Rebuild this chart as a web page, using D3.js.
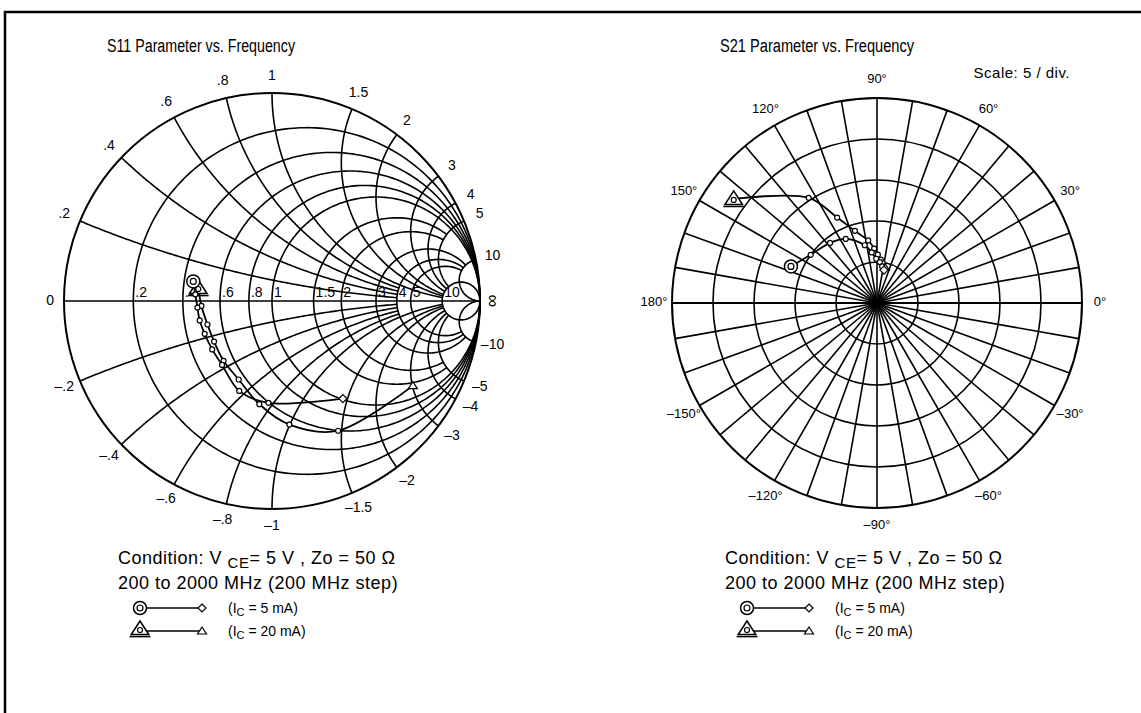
<!DOCTYPE html>
<html>
<head>
<meta charset="utf-8">
<script src="https://cdn.jsdelivr.net/npm/d3@7"></script>
<style>
  body { margin: 0; background: #fff; }
  svg text { font-family: "Liberation Sans", Arial, sans-serif; fill: #000; }
  .grid { fill: none; stroke: #000; stroke-width: 1.6; }
  .trace { fill: none; stroke: #000; stroke-width: 1.8; }
</style>
</head>
<body>
<svg id="chart" width="1141" height="713"></svg>
<script>
// frequencies 200..2000 MHz, 200 MHz step
const freqs = [200, 400, 600, 800, 1000, 1200, 1400, 1600, 1800, 2000];

// S11 (magnitude, angle in degrees)
const s11Mag5 = [0.39, 0.37, 0.36, 0.36, 0.36, 0.37, 0.39, 0.46, 0.49, 0.58];
const s11Ang5 = [166, 175, -175, -165, -154, -141, -128, -110, -92, -54];
const s11Mag20 = [0.36, 0.34, 0.33, 0.34, 0.37, 0.41, 0.50, 0.60, 0.70, 0.79];
const s11Ang20 = [170, -176, -160, -145, -129, -113, -97, -82, -63, -31];

// S21 (magnitude, angle in degrees)
const s21Mag5 = [11.4, 10.0, 9.3, 8.7, 7.2, 6.2, 5.4, 5.0, 4.5, 4.1];
const s21Ang5 = [157, 144, 128, 116, 102, 96, 91, 86, 82, 78];
const s21Mag20 = [21.6, 15.3, 11.5, 9.2, 7.7, 6.65, 5.9, 5.3, 4.9, 4.45];
const s21Ang20 = [144, 123, 115, 107, 98, 93, 89, 85, 81.5, 77.5];

// Smith chart grid values and labels
const resistances = [0.2, 0.4, 0.6, 0.8, 1, 1.5, 2, 3, 4, 5, 10];
const reactances = [0.2, 0.4, 0.6, 0.8, 1, 1.5, 2, 3, 4, 5, 10];
const resLabels = [".2", ".4", ".6", ".8", "1", "1.5", "2", "3", "4", "5", "10"];

// polar chart grid
const polarRings = [5, 10, 15, 20, 25];
const polarLabelAngles = [90, 60, 30, 0, -30, -60, -90, -120, -150, 180, 150, 120];

const svg = d3.select("#chart");

// frame
svg.append("path")
  .attr("d", "M5,713 L5,12 L1141,12")
  .attr("fill", "none").attr("stroke", "#000").attr("stroke-width", 2.5);

// ---------- Smith chart ----------
const sc = { cx: 272, cy: 301, R: 208 };
const gx = d3.scaleLinear().domain([-1, 1]).range([sc.cx - sc.R, sc.cx + sc.R]);
const gy = d3.scaleLinear().domain([-1, 1]).range([sc.cy + sc.R, sc.cy - sc.R]);

// z = r + jx  ->  gamma = (z-1)/(z+1)
function gamma(r, x) {
  const a = r - 1, b = x, c = r + 1, d = x;
  const den = c * c + d * d;
  return [(a * c + b * d) / den, (b * c - a * d) / den];
}
const lineG = d3.line().x(d => gx(d[0])).y(d => gy(d[1]));

const smith = svg.append("g");

// resistance circles (some truncated in reactance)
const resXmax = { 0.2: Infinity, 0.4: Infinity, 0.6: Infinity, 0.8: Infinity, 1: Infinity,
  1.5: 5, 2: 5, 3: 10, 4: 10, 5: 10, 10: Infinity };
resistances.forEach(r => {
  const xm = resXmax[r];
  const tmax = xm === Infinity ? Math.PI / 2 - 1e-4 : Math.atan(xm);
  const pts = d3.range(-tmax, tmax + 1e-9, tmax / 150).map(t => gamma(r, Math.tan(t)));
  smith.append("path").attr("class", "grid").attr("d", lineG(pts));
});

// reactance arcs (truncated in resistance)
const reaRmax = { 0.2: 4, 0.4: 4, 0.6: 4, 0.8: 4, 1: 10, 1.5: 10, 2: 10, 3: 10, 4: 10, 5: 10, 10: Infinity };
reactances.forEach(x => {
  const rm = reaRmax[x];
  const tmax = rm === Infinity ? Math.PI / 2 - 1e-4 : Math.atan(rm);
  [x, -x].forEach(xx => {
    const pts = d3.range(0, tmax + 1e-9, tmax / 150).map(t => gamma(Math.tan(t), xx));
    smith.append("path").attr("class", "grid").attr("d", lineG(pts));
  });
});

// outer circle and real axis
smith.append("circle").attr("cx", gx(0)).attr("cy", gy(0)).attr("r", gx(1) - gx(0))
  .attr("fill", "none").attr("stroke", "#000").attr("stroke-width", 2);
smith.append("line").attr("class", "grid")
  .attr("x1", gx(-1)).attr("y1", gy(0)).attr("x2", gx(1)).attr("y2", gy(0));

// resistance labels along the axis
resistances.forEach((r, i) => {
  const g = gamma(r, 0);
  smith.append("text").attr("x", gx(g[0]) + 2).attr("y", gy(0) - 4)
    .attr("font-size", 14).text(resLabels[i]);
});

// reactance labels around the rim
reactances.forEach((x, i) => {
  [1, -1].forEach(s => {
    const th = s * 2 * Math.atan(1 / x);
    const rr = 1 + 17 / sc.R;
    smith.append("text")
      .attr("x", gx(rr * Math.cos(th))).attr("y", gy(rr * Math.sin(th)))
      .attr("text-anchor", "middle").attr("dominant-baseline", "middle")
      .attr("font-size", 14)
      .text((s < 0 ? "\u2013" : "") + resLabels[i]);
  });
});
smith.append("text").attr("x", gx(-1) - 10).attr("y", gy(0))
  .attr("text-anchor", "end").attr("dominant-baseline", "middle").attr("font-size", 14).text("0");
smith.append("text")
  .attr("transform", `translate(${gx(1) + 12},${gy(0)}) rotate(90)`)
  .attr("text-anchor", "middle").attr("dominant-baseline", "middle")
  .attr("font-size", 18).text("\u221E");

// ---------- polar chart ----------
const pc = { cx: 877, cy: 303, R: 205 };
const rad = d3.scaleLinear().domain([0, 25]).range([0, pc.R]);
const polar = svg.append("g");
const px = (m, a) => pc.cx + rad(m) * Math.cos(a * Math.PI / 180);
const py = (m, a) => pc.cy - rad(m) * Math.sin(a * Math.PI / 180);

d3.range(0, 360, 10).forEach(a => {
  polar.append("line").attr("class", "grid")
    .attr("x1", pc.cx).attr("y1", pc.cy)
    .attr("x2", px(25, a)).attr("y2", py(25, a));
});
polarRings.forEach(m => {
  polar.append("circle").attr("cx", pc.cx).attr("cy", pc.cy).attr("r", rad(m))
    .attr("fill", "none").attr("stroke", "#000").attr("stroke-width", m === 25 ? 2 : 1.6);
});
polar.append("line").attr("stroke", "#000").attr("stroke-width", 2)
  .attr("x1", px(25, 180)).attr("y1", pc.cy).attr("x2", px(25, 0)).attr("y2", pc.cy);

polarLabelAngles.forEach(a => {
  const m = 25 * (1 + 18 / pc.R);
  polar.append("text").attr("x", px(m, a)).attr("y", py(m, a))
    .attr("text-anchor", "middle").attr("dominant-baseline", "middle")
    .attr("font-size", 13).text((a < 0 ? "\u2013" : "") + Math.abs(a) + "\u00B0");
});
svg.append("text").attr("x", 1070).attr("y", 78).attr("text-anchor", "end")
  .attr("font-size", 15).attr("letter-spacing", 0.5).text("Scale: 5 / div.");

// ---------- traces ----------
const curve = d3.line().curve(d3.curveCatmullRom);

function smithPts(mag, ang) {
  return mag.map((m, i) => [gx(m * Math.cos(ang[i] * Math.PI / 180)), gy(m * Math.sin(ang[i] * Math.PI / 180))]);
}
function polarPts(mag, ang) {
  return mag.map((m, i) => [px(m, ang[i]), py(m, ang[i])]);
}

function bigCircle(g, x, y) {
  g.append("circle").attr("cx", x).attr("cy", y).attr("r", 6.5).attr("fill", "#fff").attr("stroke", "#000").attr("stroke-width", 1.5);
  g.append("circle").attr("cx", x).attr("cy", y).attr("r", 3).attr("fill", "none").attr("stroke", "#000").attr("stroke-width", 1.2);
}
function bigTriangle(g, x, y) {
  const s = 8;
  g.append("path").attr("d", `M${x},${y - s} L${x + s * 1.1},${y + s * 0.7} L${x - s * 1.1},${y + s * 0.7}Z`)
    .attr("fill", "#fff").attr("stroke", "#000").attr("stroke-width", 1.5);
  g.append("circle").attr("cx", x).attr("cy", y + 1).attr("r", 2.5).attr("fill", "none").attr("stroke", "#000").attr("stroke-width", 1.2);
  g.append("line").attr("x1", x - s * 1.3).attr("x2", x + s * 1.3).attr("y1", y + s * 0.7 + 2).attr("y2", y + s * 0.7 + 2)
    .attr("stroke", "#000").attr("stroke-width", 1.5);
}
function smallDiamond(g, x, y) {
  g.append("path").attr("d", `M${x},${y - 4} L${x + 4},${y} L${x},${y + 4} L${x - 4},${y}Z`)
    .attr("fill", "#fff").attr("stroke", "#000").attr("stroke-width", 1.2);
}
function smallTriangle(g, x, y) {
  g.append("path").attr("d", `M${x},${y - 4} L${x + 4.5},${y + 3} L${x - 4.5},${y + 3}Z`)
    .attr("fill", "#fff").attr("stroke", "#000").attr("stroke-width", 1.2);
}

function drawTrace(pts, kind) {
  const g = svg.append("g");
  g.append("path").attr("class", "trace").attr("d", curve(pts));
  pts.slice(1, -1).forEach(p => {
    g.append("circle").attr("cx", p[0]).attr("cy", p[1]).attr("r", 2.5)
      .attr("fill", "#fff").attr("stroke", "#000").attr("stroke-width", 1.2);
  });
  const last = pts[pts.length - 1];
  if (kind === "c") { smallDiamond(g, last[0], last[1]); bigCircle(g, pts[0][0], pts[0][1]); }
  else { smallTriangle(g, last[0], last[1]); bigTriangle(g, pts[0][0], pts[0][1]); }
}

drawTrace(smithPts(s11Mag20, s11Ang20), "t");
drawTrace(smithPts(s11Mag5, s11Ang5), "c");
drawTrace(polarPts(s21Mag20, s21Ang20), "t");
drawTrace(polarPts(s21Mag5, s21Ang5), "c");

// ---------- titles and legends ----------
svg.append("text").attr("x", 107).attr("y", 52).attr("font-size", 18)
  .attr("textLength", 188).attr("lengthAdjust", "spacingAndGlyphs").text("S11 Parameter vs. Frequency");
svg.append("text").attr("x", 720).attr("y", 52).attr("font-size", 18)
  .attr("textLength", 194).attr("lengthAdjust", "spacingAndGlyphs").text("S21 Parameter vs. Frequency");

function legend(x0) {
  const t1 = svg.append("text").attr("x", x0).attr("y", 564).attr("font-size", 18).attr("letter-spacing", 0.5);
  t1.append("tspan").text("Condition:  V ");
  t1.append("tspan").attr("dy", 4).attr("font-size", 15).text("CE");
  t1.append("tspan").attr("dy", -4).text("= 5 V , Zo = 50  \u03A9");
  svg.append("text").attr("x", x0).attr("y", 589).attr("font-size", 18).attr("letter-spacing", 0.5)
    .text("200 to 2000 MHz (200 MHz step)");

  const g = svg.append("g");
  const rows = [{ y: 608, kind: "c", ic: "5" }, { y: 631, kind: "t", ic: "20" }];
  rows.forEach(r => {
    g.append("line").attr("x1", x0 + 22).attr("x2", x0 + 82).attr("y1", r.y).attr("y2", r.y)
      .attr("stroke", "#000").attr("stroke-width", 1.6);
    if (r.kind === "c") { bigCircle(g, x0 + 22, r.y); smallDiamond(g, x0 + 84, r.y); }
    else { bigTriangle(g, x0 + 22, r.y - 2); smallTriangle(g, x0 + 84, r.y); }
    const t = g.append("text").attr("x", x0 + 110).attr("y", r.y + 5).attr("font-size", 14);
    t.append("tspan").text("(I");
    t.append("tspan").attr("dy", 3).attr("font-size", 11).text("C");
    t.append("tspan").attr("dy", -3).text(" = " + r.ic + " mA)");
  });
}
legend(118);
legend(725);
</script>
</body>
</html>
